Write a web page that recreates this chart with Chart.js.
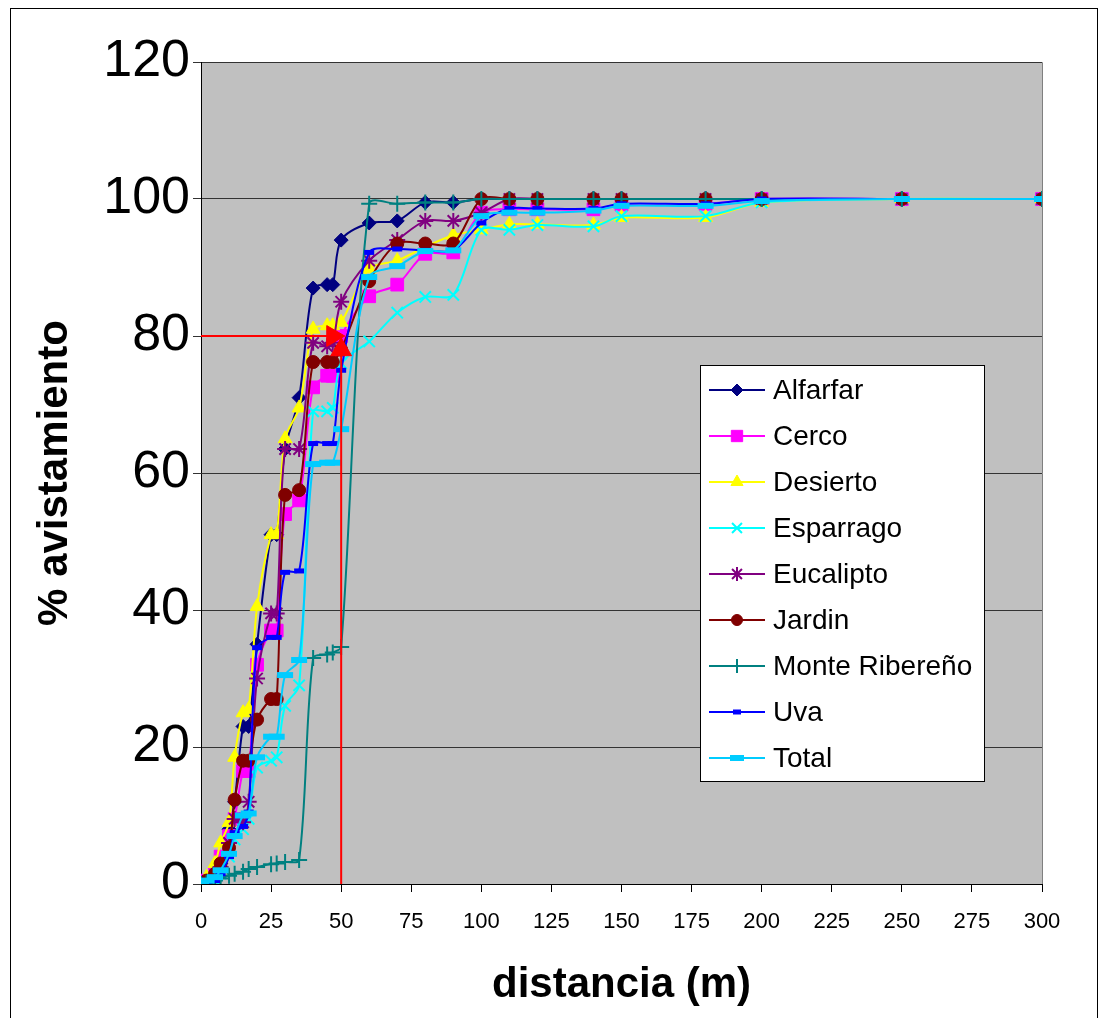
<!DOCTYPE html>
<html>
<head>
<meta charset="utf-8">
<script src="https://cdn.jsdelivr.net/npm/chart.js@4.4.1/dist/chart.umd.min.js"></script>
<style>
    body { margin: 0; background: #fff; }
    #wrap { width: 1101px; height: 1018px; position: relative; }
</style>
</head>
<body>
<div id="wrap"><canvas id="avistChart" width="1101" height="1018"></canvas></div>
<script>
// distancias comunes (m)
const distances = [0, 2, 5, 7, 10, 12, 15, 17, 20, 25, 27, 30, 35, 40, 45, 47, 50, 60, 70, 80, 90, 100, 110, 120, 140, 150, 180, 200, 250, 300];

const alfarfar = [0, 0.5, 1, 3, 8, 12, 23, 23, 35, 51, 51, 63.5, 71, 87, 87.5, 87.5, 94, 96.5, 96.8, 99.5, 99.5, 100, 100, 100, 100, 100, 100, 100, 100, 100];
const cerco = [0, 0.5, 1.5, 4, 7, 9.5, 16.5, 16.5, 32, 37, 37, 54, 56, 72.5, 74.2, 74.2, 80, 85.8, 87.5, 92, 92.2, 98, 98.5, 98.5, 98.5, 99.2, 99.3, 100, 100, 100];
const desierto = [0, 1, 3, 6, 9, 18.5, 25, 25.5, 40.5, 51, 51, 65, 69.5, 81, 81.5, 81.5, 82, 89.8, 91, 93, 94.7, 95.5, 96.3, 96.3, 96.2, 97.3, 97.3, 99.5, 100, 100];
const esparrago = [0, 0.2, 0.5, 1.5, 4, 6.5, 8, 9.5, 17, 18, 18.5, 26, 29, 69, 69, 69.5, 76, 79.2, 83.4, 85.7, 86, 95.5, 95.5, 96.2, 96, 97.5, 97.5, 99.5, 100, 100];
const eucalipto = [0, 0.3, 1, 2.5, 6, 9.5, 9, 12, 30, 39.5, 39.5, 63.5, 63.5, 79, 78.5, 79, 85, 91, 94, 96.8, 96.8, 98, 100, 100, 100, 100, 100, 100, 100, 100];
const jardin = [0, 0.5, 1.5, 3, 5.3, 12.3, 18, 18, 24, 27, 27, 56.8, 57.5, 76.2, 76.2, 76.2, 78, 88, 93.5, 93.5, 93.5, 100, 100, 100, 100, 100, 100, 100, 100, 100];
const monteRibereno = [0, 0.2, 0.5, 0.8, 1.2, 1.5, 1.8, 2.2, 2.5, 2.9, 3, 3.2, 3.5, 33, 33.5, 33.8, 34.6, 99.3, 99.3, 99.5, 99.5, 100, 100, 100, 100, 100, 100, 100, 100, 100];
const uva = [0, 0.2, 0.5, 1.5, 4, 7.5, 8.4, 10.5, 34.5, 36, 36, 45.5, 45.7, 64.3, 64.3, 64.3, 75, 92.2, 92.7, 92.5, 92.5, 96.5, 98.6, 98.6, 98.6, 99.3, 99.3, 100, 100, 100];
const total = [0, 0.5, 1, 2, 4.4, 7, 10, 10.3, 18.5, 21.5, 21.5, 30.5, 32.7, 61.3, 61.5, 61.5, 66.4, 88.6, 90.2, 92.4, 92.5, 97.5, 98, 98, 98.3, 99, 99, 99.7, 100, 100];

// linea de referencia 80% a 50 m
const refDistance = [0, 50];
const refPercent = [80, 0];

const yTicks = [0, 20, 40, 60, 80, 100, 120];
const xTicks = [0, 25, 50, 75, 100, 125, 150, 175, 200, 225, 250, 275, 300];

const FONT = "'Liberation Sans', Arial, sans-serif";

const toPoints = (ys) => ys.map((y, i) => ({ x: distances[i], y: y }));

const makeSeries = (label, values, color, style, radius, bw) => ({
    label: label,
    data: toPoints(values),
    borderColor: color,
    backgroundColor: color,
    borderWidth: 2,
    pointStyle: style,
    pointRadius: radius,
    pointBorderWidth: bw,
    pointBackgroundColor: color,
    pointBorderColor: color,
    tension: 0.3,
});

const series = [
    makeSeries("Alfarfar", alfarfar, "#000080", "rectRot", 7, 1),
    makeSeries("Cerco", cerco, "#ff00ff", "rect", 9, 1),
    makeSeries("Desierto", desierto, "#ffff00", "triangle", 8, 1),
    makeSeries("Esparrago", esparrago, "#00ffff", "crossRot", 8, 2),
    makeSeries("Eucalipto", eucalipto, "#800080", "star", 8, 2),
    makeSeries("Jardin", jardin, "#800000", "circle", 6.5, 1),
    makeSeries("Monte Ribereño", monteRibereno, "#008080", "cross", 8, 2),
    makeSeries("Uva", uva, "#0000ff", "line", 5, 5),
    makeSeries("Total", total, "#00ccff", "line", 8, 6),
];
series.forEach((s, i) => { s.order = 100 - i; });

const refH = {
    label: "ref80",
    data: [{ x: refDistance[0], y: refPercent[0] }, { x: refDistance[1], y: refPercent[0] }],
    borderColor: "#ff0000",
    borderWidth: 2,
    pointRadius: 0,
    tension: 0,
    order: 1,
};
const refV = {
    label: "ref50",
    data: [{ x: refDistance[1], y: refPercent[1] }, { x: refDistance[1], y: refPercent[0] }],
    borderColor: "#ff0000",
    borderWidth: 2,
    pointRadius: 0,
    tension: 0,
    order: 1,
};
const refArrows = {
    label: "arrows",
    data: [{ x: refDistance[1] - 3, y: refPercent[0] }, { x: refDistance[1], y: refPercent[0] - 2 }],
    showLine: false,
    pointStyle: "triangle",
    pointRotation: [90, 0],
    pointRadius: 12,
    pointBackgroundColor: "#ff0000",
    pointBorderColor: "#ff0000",
    order: 0,
};

const frame = {
    id: "frame",
    beforeDraw(chart) {
        const { ctx, chartArea: a } = chart;
        ctx.save();
        ctx.fillStyle = "#c0c0c0";
        ctx.fillRect(a.left, a.top, a.right - a.left, a.bottom - a.top);
        ctx.strokeStyle = "#000";
        ctx.lineWidth = 1;
        ctx.strokeRect(10.5, 8.5, 1087, 1030);
        ctx.strokeStyle = "#808080";
        ctx.beginPath();
        ctx.moveTo(a.left, a.top + 0.5);
        ctx.lineTo(a.right + 0.5, a.top + 0.5);
        ctx.lineTo(a.right + 0.5, a.bottom);
        ctx.stroke();
        ctx.restore();
    },
    afterDraw(chart) {
        // leyenda
        const { ctx } = chart;
        const bx = 700, by = 365, bw = 284, bh = 416;
        ctx.save();
        ctx.fillStyle = "#fff";
        ctx.fillRect(bx, by, bw, bh);
        ctx.strokeStyle = "#000";
        ctx.lineWidth = 1;
        ctx.strokeRect(bx + 0.5, by + 0.5, bw, bh);
        ctx.font = "28px " + FONT;
        ctx.textBaseline = "middle";
        series.forEach((s, i) => {
            const y = by + 25 + i * 46;
            ctx.strokeStyle = s.borderColor;
            ctx.lineWidth = 2;
            ctx.beginPath();
            ctx.moveTo(bx + 9, y);
            ctx.lineTo(bx + 65, y);
            ctx.stroke();
            ctx.fillStyle = s.borderColor;
            ctx.lineWidth = s.pointBorderWidth;
            Chart.helpers.drawPoint(ctx, {
                pointStyle: s.pointStyle,
                radius: s.pointStyle === "line" ? s.pointRadius - 1 : s.pointRadius - 1,
                rotation: 0,
                borderWidth: s.pointBorderWidth,
            }, bx + 37, y);
            ctx.fillStyle = "#000";
            ctx.fillText(s.label, bx + 73, y + 1);
        });
        ctx.restore();
    },
};

new Chart(document.getElementById("avistChart").getContext("2d"), {
    type: "line",
    data: { datasets: [...series, refH, refV, refArrows] },
    options: {
        responsive: false,
        animation: false,
        layout: { padding: { left: 0, right: 59, top: 62, bottom: 0 } },
        plugins: { legend: { display: false }, tooltip: { enabled: false } },
        scales: {
            x: {
                type: "linear",
                min: 0,
                max: 300,
                afterBuildTicks: (scale) => { scale.ticks = xTicks.map((v) => ({ value: v })); },
                afterFit: (scale) => { scale.height = 134; },
                grid: { drawOnChartArea: false, tickLength: 8, color: "#000" },
                border: { color: "#000", width: 1 },
                ticks: { color: "#000", font: { family: FONT, size: 22 }, padding: 17, maxRotation: 0, autoSkip: false },
                title: {
                    display: true,
                    text: "distancia (m)",
                    color: "#000",
                    font: { family: FONT, size: 42, weight: "bold" },
                    padding: { top: 0, bottom: 7 },
                },
            },
            y: {
                min: 0,
                max: 120,
                afterBuildTicks: (scale) => { scale.ticks = yTicks.map((v) => ({ value: v })); },
                afterFit: (scale) => { scale.width = 201; },
                grid: { color: "#333", tickLength: 8, lineWidth: 1 },
                border: { color: "#000", width: 1 },
                ticks: { color: "#000", font: { family: FONT, size: 52 }, padding: 3 },
                title: {
                    display: true,
                    text: "% avistamiento",
                    color: "#000",
                    font: { family: FONT, size: 42, weight: "bold" },
                    padding: { top: 30, bottom: 0 },
                },
            },
        },
    },
    plugins: [frame],
});
</script>
</body>
</html>
